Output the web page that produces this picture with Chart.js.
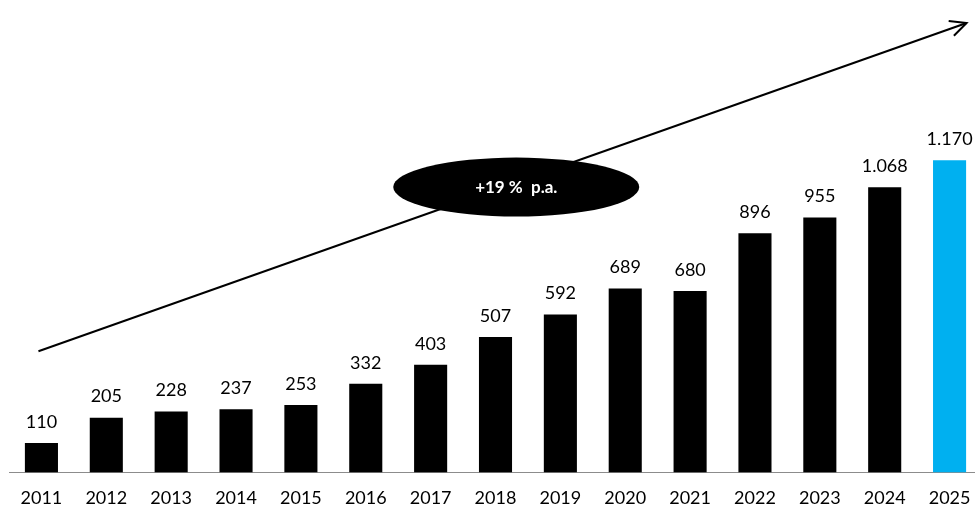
<!DOCTYPE html>
<html>
<head>
<meta charset="utf-8">
<script src="https://cdn.jsdelivr.net/npm/chart.js@4.4.0/dist/chart.umd.min.js"></script>
<style>
  html, body { margin: 0; padding: 0; overflow: hidden; background: #fff; }
  #wrap { width: 990px; height: 507px; }
</style>
</head>
<body>
<div id="wrap"><canvas id="growthChart" width="990" height="507"></canvas></div>
<script>
const years = ['2011','2012','2013','2014','2015','2016','2017','2018','2019','2020','2021','2022','2023','2024','2025'];
const values = [110, 205, 228, 237, 253, 332, 403, 507, 592, 689, 680, 896, 955, 1068, 1170];
const barColors = ['#000000','#000000','#000000','#000000','#000000','#000000','#000000','#000000','#000000','#000000','#000000','#000000','#000000','#000000','#00b0f0'];
const growthLabel = '+19 %  p.a.';

const fontFamily = 'Lato, "Open Sans", sans-serif';

function formatNumber(v) {
    // german style thousands separator
    return String(v).replace(/\B(?=(\d{3})+(?!\d))/g, '.');
}

// value labels above bars
const valueLabels = {
    id: 'valueLabels',
    afterDatasetsDraw(chart) {
        const ctx = chart.ctx;
        const meta = chart.getDatasetMeta(0);
        ctx.save();
        ctx.font = '18px ' + fontFamily;
        ctx.fillStyle = '#000';
        ctx.textAlign = 'center';
        ctx.textBaseline = 'middle';
        meta.data.forEach((bar, i) => {
            ctx.fillText(formatNumber(values[i]), bar.x, bar.y - 21);
        });
        ctx.restore();
    }
};

// growth arrow with ellipse label
const growthArrow = {
    id: 'growthArrow',
    afterDraw(chart) {
        const ctx = chart.ctx;
        const x = chart.scales.x;
        const y = chart.scales.y;
        const x0 = x.getPixelForValue(0) - 3, y0 = y.getPixelForValue(454);
        const x1 = x.getPixelForValue(14) + 17, y1 = y.getPixelForValue(1684);
        ctx.save();
        ctx.strokeStyle = '#000';
        ctx.lineWidth = 2;
        ctx.beginPath();
        ctx.moveTo(x0, y0);
        ctx.lineTo(x1, y1);
        ctx.stroke();
        // arrow head
        const ang = Math.atan2(y1 - y0, x1 - x0);
        const len = 18;
        ctx.beginPath();
        ctx.moveTo(x1 - len * Math.cos(ang - 0.45), y1 - len * Math.sin(ang - 0.45));
        ctx.lineTo(x1, y1);
        ctx.lineTo(x1 - len * Math.cos(ang + 0.45), y1 - len * Math.sin(ang + 0.45));
        ctx.stroke();

        // ellipse
        const cx = x.getPixelForValue(7.32), cy = y.getPixelForValue(1069);
        ctx.fillStyle = '#000';
        ctx.beginPath();
        ctx.ellipse(cx, cy, 123, 29.5, 0, 0, Math.PI * 2);
        ctx.fill();
        ctx.fillStyle = '#fff';
        ctx.font = 'bold 17px ' + fontFamily;
        ctx.textAlign = 'center';
        ctx.textBaseline = 'middle';
        ctx.fillText(growthLabel, cx, cy);
        ctx.restore();
    }
};

new Chart(document.getElementById('growthChart'), {
    type: 'bar',
    data: {
        labels: years,
        datasets: [{
            data: values,
            backgroundColor: barColors,
            borderWidth: 0,
            barPercentage: 0.51,
            categoryPercentage: 1.0
        }]
    },
    options: {
        responsive: false,
        animation: false,
        layout: { padding: { left: 9, right: 8, top: 0, bottom: -17 } },
        plugins: {
            legend: { display: false },
            tooltip: { enabled: false }
        },
        scales: {
            x: {
                grid: { display: false, drawTicks: false },
                border: { display: true, color: '#8c8c8c', width: 1 },
                ticks: {
                    color: '#000',
                    font: { family: fontFamily, size: 18 },
                    padding: 15,
                    maxRotation: 0,
                    autoSkip: false
                }
            },
            y: {
                display: false,
                min: 0,
                max: 1770
            }
        }
    },
    plugins: [valueLabels, growthArrow]
});
</script>
</body>
</html>
